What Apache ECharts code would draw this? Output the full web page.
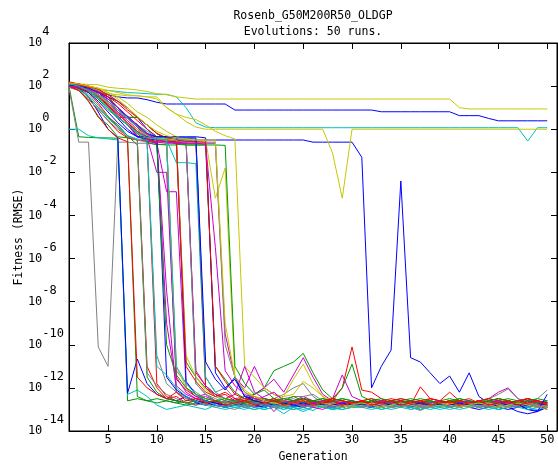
<!DOCTYPE html>
<html>
<head>
<meta charset="utf-8">
<script src="https://cdn.jsdelivr.net/npm/echarts@6/dist/echarts.min.js"></script>
<style>html,body{margin:0;padding:0;background:#fff}#c{width:558px;height:464px}</style>
</head>
<body>
<div id="c"></div>
<script>
// ---- data (fitness values stored as log10 of RMSE) ----
const titleText = 'Rosenb_G50M200R50_OLDGP\nEvolutions: 50 runs.';
const xName = 'Generation';
const yName = 'Fitness (RMSE)';
const generations = [1,2,3,4,5,6,7,8,9,10,11,12,13,14,15,16,17,18,19,20,21,22,23,24,25,26,27,28,29,30,31,32,33,34,35,36,37,38,39,40,41,42,43,44,45,46,47,48,49,50];
const xTickValues = [5,10,15,20,25,30,35,40,45,50];
const yTickExponents = [-14,-12,-10,-8,-6,-4,-2,0,2,4];
const palette = ['#ff0000','#009900','#0000ff','#cc00cc','#00c0c0','#c8c800','#808080'];

const run01 = [2.05,1.95,1.7,1.2,0.6,0.1,-0.4,-0.5,-0.55,-11.8,
 -12.4,-12.6,-12.7,-12.8,-12.6,-12.7,-12.9,-12.8,-12.7,-12.6,
 -12.8,-12.7,-12.8,-12.9,-12.7,-12.6,-12.7,-12.8,-12.8,-12.7,
 -12.9,-12.8,-12.6,-12.7,-12.8,-12.7,-12.9,-12.8,-12.7,-12.8,
 -12.6,-12.7,-12.8,-12.9,-12.7,-12.8,-12.7,-12.9,-12.8,-13.0];
const run02 = [2.0,-0.35,-0.38,-0.4,-0.4,-0.42,-12.6,-12.5,-12.6,-12.7,
 -12.6,-12.7,-12.8,-12.7,-12.6,-12.7,-12.8,-12.6,-12.7,-12.8,
 -12.7,-12.6,-12.7,-12.8,-12.7,-12.7,-12.6,-12.8,-12.7,-12.6,
 -12.7,-12.8,-12.7,-12.6,-12.7,-12.7,-12.8,-12.7,-12.6,-12.7,
 -12.8,-12.7,-12.6,-12.7,-12.7,-12.8,-12.7,-12.6,-12.7,-12.7];
const run03 = [2.0,1.95,1.85,1.75,1.6,1.5,1.45,1.45,1.37,1.25,
 1.17,1.17,1.17,1.17,1.17,1.17,1.17,0.89,0.89,0.89,
 0.89,0.89,0.89,0.89,0.89,0.89,0.89,0.89,0.89,0.89,
 0.89,0.89,0.81,0.81,0.81,0.81,0.81,0.81,0.81,0.81,
 0.63,0.63,0.63,0.5,0.39,0.39,0.39,0.39,0.39,0.39];
const run04 = [2.1,2.0,1.8,1.5,1.0,0.55,0.2,-0.35,-0.5,-0.6,
 -7.5,-12.2,-12.5,-12.6,-12.8,-12.7,-12.9,-12.8,-12.6,-12.7,
 -12.8,-12.7,-12.6,-12.8,-12.9,-12.7,-12.8,-12.7,-12.9,-12.8,
 -12.7,-12.8,-12.9,-12.7,-12.8,-12.6,-12.7,-12.8,-12.7,-12.9,
 -12.8,-12.7,-12.8,-12.6,-12.7,-12.9,-12.8,-12.7,-12.8,-12.9];
const run05 = [2.0,1.95,1.9,1.85,1.8,1.75,1.7,1.68,1.65,1.62,
 1.62,1.5,1.0,0.3,0.1,0.07,0.07,0.07,0.07,0.07,
 0.07,0.07,0.07,0.07,0.07,0.07,0.07,0.07,0.07,0.07,
 0.07,0.07,0.07,0.07,0.07,0.07,0.07,0.07,0.07,0.07,
 0.07,0.07,0.07,0.07,0.07,0.07,0.07,-0.55,0.07,0.07];
const run06 = [2.1,2.1,2.08,2.06,1.95,1.9,1.87,1.82,1.75,1.65,
 1.6,1.5,1.45,1.4,1.4,1.4,1.4,1.4,1.4,1.4,
 1.4,1.4,1.4,1.4,1.4,1.4,1.4,1.4,1.4,1.4,
 1.4,1.4,1.4,1.4,1.4,1.4,1.4,1.4,1.4,1.4,
 1.0,0.94,0.94,0.94,0.94,0.94,0.94,0.94,0.94,0.94];
const run07 = [1.9,-0.6,-0.6,-10.1,-11.0,-0.6,-0.6,-0.65,-0.65,-0.7,
 -0.7,-12.2,-12.4,-12.6,-12.7,-12.8,-12.9,-13.0,-12.8,-12.7,
 -12.8,-12.9,-12.7,-12.8,-12.6,-12.8,-12.9,-12.8,-12.7,-12.8,
 -12.9,-12.8,-12.7,-12.8,-12.9,-12.7,-13.0,-12.8,-12.7,-12.8,
 -12.9,-12.8,-12.7,-12.8,-12.6,-12.9,-12.8,-12.7,-12.8,-12.9];
const run08 = [2.15,2.1,1.9,1.6,1.1,0.55,0.55,0.2,-0.3,-0.45,
 -0.58,-11.6,-12.1,-12.4,-12.6,-12.7,-12.8,-12.6,-12.7,-12.8,
 -12.7,-12.9,-12.8,-12.7,-12.6,-12.8,-12.7,-12.9,-12.8,-12.7,
 -12.8,-12.7,-12.6,-12.8,-12.9,-12.7,-12.8,-12.7,-12.6,-12.8,
 -12.7,-12.9,-12.8,-12.7,-12.8,-12.6,-12.7,-12.9,-12.8,-12.7];
const run09 = [2.0,1.9,1.85,1.5,1.0,0.55,0.2,-0.1,-0.4,-0.7,
 -0.73,-0.73,-10.8,-11.5,-12.0,-12.3,-12.5,-12.6,-12.4,-12.3,
 -12.0,-11.2,-11.0,-10.8,-10.4,-11.3,-12.1,-12.5,-12.6,-12.7,
 -12.8,-12.7,-12.6,-12.8,-12.7,-12.9,-12.7,-12.8,-12.7,-12.6,
 -12.7,-12.8,-12.7,-12.9,-12.8,-12.7,-12.6,-12.8,-12.7,-12.8];
const run10 = [2.05,1.95,1.8,1.5,1.0,0.5,0.0,-0.35,-0.45,-0.5,
 -0.5,-0.5,-0.5,-0.5,-0.5,-0.5,-0.5,-0.5,-0.5,-0.5,
 -0.5,-0.5,-0.5,-0.5,-0.5,-0.6,-0.6,-0.6,-0.6,-0.6,
 -1.3,-12.0,-11.0,-10.25,-2.4,-10.6,-10.8,-11.3,-11.8,-11.45,
 -12.2,-11.3,-12.4,-12.7,-12.7,-12.75,-12.8,-13.0,-13.05,-12.9];
const run11 = [2.1,2.0,1.9,1.7,1.3,0.8,0.3,-0.2,-0.55,-0.65,
 -2.9,-2.9,-12.0,-12.4,-12.3,-12.6,-12.7,-12.5,-12.6,-12.3,
 -12.0,-11.6,-12.2,-11.4,-10.6,-11.5,-12.3,-12.6,-12.7,-12.8,
 -12.7,-12.9,-12.8,-12.7,-12.6,-12.8,-12.7,-12.9,-12.8,-12.7,
 -12.8,-12.7,-12.6,-12.5,-12.2,-12.0,-12.5,-12.7,-12.8,-12.9];
const run12 = [0.0,0.0,-0.3,-0.4,-0.45,-0.5,-12.3,-12.1,-12.4,-12.8,
 -13.0,-12.9,-12.8,-12.9,-13.0,-12.8,-12.9,-12.8,-12.7,-12.9,
 -12.8,-12.9,-13.0,-12.8,-12.9,-13.05,-12.8,-12.9,-12.8,-12.9,
 -12.8,-12.9,-12.8,-12.7,-12.9,-12.8,-12.9,-12.8,-12.9,-12.8,
 -12.9,-12.8,-12.9,-12.8,-12.7,-12.9,-12.8,-12.9,-12.8,-12.9];
const run13 = [2.0,1.95,1.85,1.75,1.65,1.6,1.55,1.55,1.5,1.4,
 1.0,0.7,0.35,0.1,0.0,0.0,0.0,0.0,0.0,0.0,
 0.0,0.0,0.0,0.0,0.0,0.0,0.0,-1.1,-3.2,0.0,
 0.0,0.0,0.0,0.0,0.0,0.0,0.0,0.0,0.0,0.0,
 0.0,0.0,0.0,0.0,0.0,0.0,0.0,0.0,0.0,0.0];
const run14 = [2.0,1.95,1.8,1.6,1.2,0.8,0.5,0.1,-0.3,-0.4,
 -0.45,-0.5,-0.5,-0.55,-11.5,-12.2,-12.0,-12.5,-12.4,-12.6,
 -12.7,-12.5,-12.3,-12.0,-11.8,-12.4,-12.7,-12.8,-12.6,-12.7,
 -12.8,-12.7,-12.9,-12.8,-12.7,-12.8,-13.0,-12.9,-12.8,-12.7,
 -12.8,-12.6,-12.7,-12.5,-12.3,-12.05,-12.5,-12.7,-12.5,-12.1];
const run15 = [2.2,2.1,2.0,1.9,1.5,1.0,0.55,0.2,-0.3,-0.5,
 -0.55,-0.58,-0.58,-11.3,-11.9,-12.3,-12.5,-12.6,-12.5,-12.6,
 -12.7,-12.6,-12.7,-12.6,-12.5,-12.6,-12.7,-12.5,-12.0,-10.1,
 -12.1,-12.2,-12.5,-12.7,-12.6,-12.8,-11.95,-12.5,-12.6,-12.2,
 -12.6,-12.7,-12.8,-12.6,-12.7,-12.8,-12.7,-12.6,-12.8,-13.0];
const run16 = [2.1,2.0,1.9,1.75,1.5,1.0,0.55,0.55,0.2,-0.2,
 -0.5,-0.65,-0.73,-0.73,-0.73,-11.0,-11.6,-12.2,-12.5,-12.4,
 -12.6,-12.5,-12.7,-12.6,-12.5,-12.6,-12.5,-12.6,-12.0,-10.9,
 -12.4,-12.6,-12.7,-12.6,-12.7,-12.8,-12.6,-12.7,-12.6,-12.7,
 -12.5,-12.6,-12.7,-12.6,-12.5,-12.6,-12.7,-12.6,-12.7,-12.6];
const run17 = [2.05,1.9,1.5,0.8,0.0,-0.4,-12.25,-10.66,-11.8,-12.3,
 -12.5,-12.6,-12.4,-12.7,-12.8,-12.6,-12.7,-12.8,-12.9,-12.8,
 -12.9,-12.8,-12.9,-12.85,-12.8,-12.9,-12.8,-12.9,-12.85,-12.9,
 -12.85,-12.9,-12.8,-12.9,-12.85,-12.9,-12.8,-12.9,-12.85,-12.9,
 -12.8,-12.9,-12.85,-12.9,-12.8,-12.9,-12.85,-12.9,-12.8,-12.85];
const run18 = [2.0,1.95,1.85,1.6,1.3,0.9,0.55,0.2,-0.2,-0.4,
 -0.5,-0.6,-0.65,-0.65,-0.65,-0.65,-9.5,-11.5,-12.0,-11.0,
 -12.0,-12.3,-12.5,-12.6,-12.4,-12.6,-12.7,-12.5,-11.4,-12.4,
 -12.6,-12.7,-12.6,-12.8,-12.7,-12.6,-12.8,-12.7,-12.6,-12.7,
 -12.8,-12.7,-12.6,-12.7,-12.8,-12.7,-12.6,-12.5,-12.7,-12.8];
const run19 = [2.0,1.9,1.7,1.4,1.0,0.6,0.2,-0.2,-0.4,-0.45,
 -0.5,-1.55,-1.55,-1.6,-12.0,-12.4,-12.6,-12.7,-12.8,-12.9,
 -13.0,-12.9,-13.2,-12.9,-13.1,-12.9,-12.8,-12.95,-13.0,-12.9,
 -12.9,-12.8,-12.9,-12.8,-12.9,-12.8,-12.9,-13.0,-12.9,-12.8,
 -12.9,-12.8,-12.9,-12.8,-12.9,-12.8,-12.9,-12.8,-12.9,-12.8];
const run20 = [2.1,2.0,1.95,1.9,1.8,1.7,1.6,1.55,1.5,1.5,
 1.0,0.7,0.55,0.45,0.2,-0.1,-0.3,-0.45,-11.0,-11.5,
 -12.0,-12.3,-12.4,-11.6,-10.9,-11.8,-12.4,-12.7,-12.8,-12.7,
 -12.7,-12.8,-12.9,-12.7,-12.8,-12.6,-12.8,-12.7,-12.8,-12.9,
 -12.8,-12.7,-12.8,-12.9,-12.7,-12.8,-12.6,-12.8,-12.9,-12.8];
const run21 = [2.1,2.0,1.9,1.6,1.2,0.7,0.55,0.2,-0.2,-0.5,
 -0.6,-11.2,-11.8,-12.2,-12.5,-12.6,-12.7,-12.6,-12.5,-12.7,
 -12.6,-12.7,-12.5,-12.4,-12.4,-12.3,-12.6,-12.7,-12.8,-12.7,
 -12.6,-12.8,-12.7,-12.6,-12.7,-13.0,-12.9,-12.7,-12.8,-12.7,
 -12.6,-12.7,-12.8,-12.7,-12.6,-12.8,-12.9,-12.7,-12.6,-12.8];
const run22 = [1.95,1.8,1.4,0.9,0.4,-0.1,-0.4,-0.5,-11.0,-12.0,
 -12.5,-12.4,-12.7,-12.6,-12.8,-12.7,-12.6,-12.8,-12.7,-12.9,
 -12.7,-12.8,-12.6,-12.7,-12.9,-12.8,-12.7,-12.6,-12.8,-12.7,
 -12.8,-12.9,-12.7,-12.8,-12.6,-12.7,-12.8,-12.9,-12.7,-12.8,
 -12.7,-12.8,-12.9,-12.7,-12.8,-12.6,-12.7,-12.8,-12.9,-12.7];
const run23 = [2.0,1.85,1.3,0.55,0.2,-0.35,-0.4,-12.4,-12.6,-12.5,
 -12.6,-12.7,-12.6,-12.5,-12.6,-12.7,-12.6,-12.7,-12.6,-12.5,
 -12.6,-12.7,-12.8,-12.6,-12.7,-12.6,-12.5,-12.6,-12.7,-12.6,
 -12.7,-12.6,-12.7,-12.6,-12.5,-12.6,-12.7,-12.6,-12.7,-12.6,
 -12.6,-12.7,-12.6,-12.7,-12.6,-12.5,-12.6,-12.7,-12.6,-12.7];
const run24 = [2.0,1.95,1.85,1.7,1.5,1.3,1.0,0.55,0.0,-0.35,
 -0.35,-0.35,-0.35,-0.35,-0.4,-11.3,-12.0,-11.6,-12.4,-12.5,
 -12.6,-12.7,-12.8,-12.7,-12.8,-12.9,-12.8,-12.9,-12.8,-12.9,
 -12.8,-12.9,-12.8,-12.9,-12.8,-12.9,-12.8,-12.7,-12.8,-12.9,
 -12.8,-12.9,-13.0,-12.9,-12.8,-12.9,-13.1,-13.2,-13.1,-12.9];
const run25 = [2.15,2.05,1.9,1.6,1.1,0.6,0.2,-0.3,-0.55,-0.65,
 -9.0,-11.9,-12.3,-12.5,-12.6,-12.7,-12.8,-12.6,-12.7,-12.9,
 -12.7,-12.8,-12.9,-12.8,-12.7,-12.9,-12.8,-12.7,-12.9,-12.8,
 -12.8,-12.7,-12.9,-12.8,-12.7,-12.8,-12.9,-12.8,-12.7,-12.8,
 -12.9,-12.8,-12.7,-12.8,-12.9,-12.8,-12.7,-12.9,-12.8,-12.7];
const run26 = [2.05,1.95,1.8,1.55,1.2,0.8,0.5,0.15,-0.3,-0.45,
 -0.5,-0.5,-0.55,-11.8,-12.3,-12.6,-12.8,-12.9,-13.0,-12.8,
 -12.9,-12.8,-13.0,-12.9,-12.8,-12.9,-12.8,-13.0,-12.9,-12.8,
 -12.9,-12.8,-12.9,-13.0,-12.9,-12.8,-12.9,-12.8,-12.9,-12.8,
 -12.9,-12.8,-12.9,-12.8,-13.0,-12.9,-12.8,-12.9,-12.8,-12.9];
const run27 = [2.1,2.05,2.0,1.9,1.7,1.5,1.2,0.8,0.55,0.2,
 -0.1,-0.35,-0.45,-0.5,-0.5,-3.2,-1.8,-11.5,-12.2,-12.4,
 -12.5,-12.6,-12.4,-12.3,-11.7,-12.0,-12.4,-12.6,-12.7,-12.8,
 -12.7,-12.8,-12.9,-12.8,-12.7,-12.8,-12.9,-12.7,-12.8,-12.9,
 -12.8,-12.7,-12.9,-12.8,-12.7,-12.9,-12.8,-12.7,-12.9,-13.0];
const run28 = [2.0,1.9,1.6,1.1,0.6,0.2,-0.3,-0.5,-0.6,-10.5,
 -11.8,-12.2,-12.5,-12.6,-12.8,-12.7,-12.6,-12.8,-12.7,-12.6,
 -12.8,-12.7,-12.9,-12.8,-12.7,-12.8,-12.9,-12.7,-12.8,-12.9,
 -12.8,-12.7,-12.9,-12.8,-12.7,-12.9,-13.05,-12.8,-12.7,-12.8,
 -12.7,-12.8,-12.9,-12.8,-12.7,-12.9,-12.8,-12.7,-12.9,-12.8];
const run29 = [2.1,2.05,1.95,1.75,1.5,1.2,0.8,0.4,0.0,-0.35,
 -0.45,-0.58,-0.58,-0.58,-12.0,-12.4,-12.3,-12.6,-12.7,-12.6,
 -12.7,-12.6,-12.8,-12.7,-12.6,-12.7,-12.8,-12.6,-12.7,-12.8,
 -12.7,-12.6,-12.7,-12.8,-12.7,-12.6,-12.7,-12.8,-12.7,-12.6,
 -12.7,-12.8,-12.6,-12.7,-12.8,-12.7,-12.6,-12.7,-12.8,-12.7];
const run30 = [2.0,1.9,1.8,1.6,1.3,0.9,0.55,0.55,0.2,-0.2,
 -0.45,-0.7,-0.73,-0.73,-0.73,-0.73,-0.75,-11.0,-11.8,-12.3,
 -12.1,-12.5,-12.6,-12.4,-12.6,-12.7,-12.6,-12.5,-12.6,-12.7,
 -12.6,-12.5,-12.6,-12.7,-12.6,-12.5,-12.6,-12.7,-12.6,-12.5,
 -12.6,-12.7,-12.6,-12.5,-12.6,-12.7,-12.6,-12.5,-12.6,-12.7];
const run31 = [2.1,2.0,1.9,1.7,1.4,1.0,0.55,0.1,-0.35,-0.35,
 -0.35,-0.35,-11.7,-12.3,-12.6,-12.7,-12.8,-12.75,-12.8,-12.7,
 -12.8,-12.75,-12.8,-12.7,-12.8,-12.75,-12.8,-12.7,-12.75,-12.8,
 -12.75,-12.8,-12.7,-12.75,-12.8,-12.75,-12.7,-12.8,-12.75,-12.8,
 -12.75,-12.8,-12.7,-12.75,-12.8,-12.75,-12.7,-12.8,-12.75,-12.8];
const run32 = [2.0,1.95,1.8,1.5,1.1,0.7,0.3,-0.1,-0.4,-2.0,
 -2.0,-11.5,-12.2,-12.5,-12.4,-12.6,-12.7,-12.5,-12.7,-12.6,
 -12.4,-12.2,-12.6,-12.7,-12.5,-12.7,-12.8,-12.6,-12.7,-12.8,
 -12.6,-12.7,-12.8,-12.7,-12.6,-12.8,-12.7,-12.6,-12.7,-12.8,
 -12.7,-12.6,-12.8,-12.7,-12.6,-12.7,-12.8,-12.7,-12.6,-12.7];
const run33 = [2.1,2.0,1.85,1.6,1.3,0.9,0.55,0.2,-0.1,-0.35,
 -0.4,-0.42,-0.42,-0.45,-11.5,-12.2,-12.5,-12.7,-12.9,-13.0,
 -12.9,-12.8,-12.9,-13.0,-12.9,-12.8,-12.9,-13.0,-12.9,-12.8,
 -12.9,-12.8,-13.0,-12.9,-12.8,-12.9,-12.8,-12.9,-13.0,-12.9,
 -12.8,-12.9,-12.8,-12.9,-13.0,-12.9,-12.8,-12.9,-12.8,-12.9];
const run34 = [2.05,1.95,1.8,1.5,1.0,0.55,0.2,-0.2,-0.4,-0.45,
 -0.5,-11.0,-12.0,-12.3,-12.5,-12.6,-12.7,-12.8,-12.7,-12.6,
 -12.7,-12.8,-12.9,-12.8,-12.7,-12.8,-12.9,-12.8,-12.7,-12.8,
 -12.9,-12.8,-12.7,-12.8,-12.9,-12.8,-12.7,-12.8,-12.9,-12.8,
 -12.7,-12.8,-12.9,-12.8,-12.7,-12.9,-12.8,-12.7,-12.8,-12.9];
const run35 = [2.0,1.95,1.9,1.8,1.6,1.3,1.0,0.55,0.2,-0.2,
 -0.4,-0.5,-0.55,-0.6,-0.6,-0.6,-10.0,-11.5,-12.2,-12.5,
 -12.6,-12.7,-12.6,-12.5,-12.7,-12.8,-12.7,-12.6,-12.8,-12.7,
 -12.8,-12.7,-12.6,-12.8,-12.7,-12.6,-12.8,-12.7,-12.6,-12.8,
 -12.7,-12.8,-12.6,-12.7,-12.8,-12.7,-12.6,-12.8,-12.7,-12.6];
const run36 = [2.15,2.1,2.0,1.85,1.6,1.3,0.9,0.55,0.2,-0.2,
 -0.4,-0.5,-0.58,-0.58,-0.6,-11.0,-11.7,-12.3,-12.5,-12.6,
 -12.5,-12.6,-12.7,-12.6,-12.5,-12.7,-12.6,-12.5,-12.6,-12.7,
 -12.6,-12.7,-12.6,-12.5,-12.6,-12.7,-12.6,-12.5,-12.6,-12.7,
 -12.6,-12.7,-12.6,-12.5,-12.6,-12.7,-12.6,-12.5,-12.6,-12.7];
const run37 = [2.05,1.9,1.5,1.0,0.55,0.2,-0.3,-0.73,-11.5,-12.2,
 -12.5,-12.6,-12.7,-12.6,-12.7,-12.6,-12.7,-12.6,-12.7,-12.6,
 -12.7,-12.6,-12.5,-12.6,-12.7,-12.6,-12.7,-12.6,-12.5,-12.6,
 -12.7,-12.6,-12.7,-12.6,-12.7,-12.6,-12.7,-12.6,-12.7,-12.6,
 -12.7,-12.6,-12.7,-12.6,-12.7,-12.6,-12.7,-12.6,-12.7,-12.6];
const run38 = [2.0,1.9,1.7,1.3,0.8,0.3,-0.1,-0.35,-0.35,-0.35,
 -11.5,-12.1,-12.4,-12.6,-12.7,-12.8,-12.9,-12.8,-12.7,-12.8,
 -12.9,-12.8,-12.7,-12.8,-12.9,-12.8,-12.7,-12.8,-12.9,-12.8,
 -12.7,-12.8,-12.9,-12.8,-12.7,-12.8,-12.9,-12.8,-12.7,-12.8,
 -12.9,-12.8,-12.7,-12.8,-12.9,-13.0,-12.9,-12.8,-12.9,-12.8];
const run39 = [2.1,2.0,1.85,1.6,1.2,0.8,0.4,0.0,-0.4,-0.6,
 -0.65,-0.65,-0.65,-11.2,-11.9,-12.3,-12.5,-12.3,-11.0,-12.2,
 -12.5,-12.6,-12.7,-12.6,-12.8,-12.7,-12.6,-12.8,-12.7,-12.6,
 -12.8,-12.7,-12.6,-12.8,-12.7,-12.6,-12.8,-12.7,-12.6,-12.8,
 -12.7,-12.6,-12.8,-12.7,-12.6,-12.8,-12.7,-12.6,-12.8,-12.7];
const run40 = [2.0,1.85,1.5,1.0,0.5,0.1,-0.3,-0.45,-0.5,-11.0,
 -11.4,-12.0,-12.4,-12.6,-12.8,-12.9,-13.0,-12.9,-12.8,-12.9,
 -13.0,-12.9,-12.8,-12.9,-13.0,-12.9,-12.8,-12.9,-13.0,-12.9,
 -12.8,-12.9,-13.0,-12.9,-12.8,-12.9,-13.0,-12.9,-12.8,-12.9,
 -13.0,-12.9,-12.8,-12.9,-13.0,-12.9,-12.8,-12.9,-13.0,-12.9];
const run41 = [2.1,2.0,1.9,1.6,1.2,0.7,0.3,0.0,-0.3,-0.4,
 -0.45,-0.5,-10.5,-11.5,-12.1,-12.4,-12.5,-12.6,-12.7,-12.8,
 -12.7,-12.8,-12.6,-12.7,-12.8,-12.9,-12.8,-12.7,-12.8,-12.9,
 -12.8,-12.7,-12.8,-12.9,-12.8,-12.7,-12.8,-12.9,-12.8,-12.7,
 -12.8,-12.9,-12.8,-12.7,-12.8,-12.9,-12.8,-12.7,-12.8,-12.9];
const run42 = [2.05,2.0,1.85,1.6,1.3,0.9,0.5,0.1,-0.25,-0.45,
 -0.5,-0.55,-0.6,-11.8,-12.3,-12.5,-12.7,-12.6,-12.8,-12.7,
 -12.8,-12.7,-12.9,-12.8,-12.7,-12.8,-12.9,-12.7,-12.8,-12.7,
 -12.9,-12.8,-12.7,-12.8,-12.9,-12.7,-12.8,-12.9,-12.7,-12.8,
 -12.9,-12.7,-12.8,-12.9,-12.7,-12.8,-12.9,-12.7,-12.8,-12.9];
const run43 = [2.0,1.9,1.75,1.5,1.1,0.7,0.3,-0.1,-0.45,-0.58,
 -0.58,-0.58,-11.0,-11.7,-12.2,-12.4,-12.2,-12.5,-12.6,-12.4,
 -12.6,-12.5,-12.7,-12.6,-12.5,-12.6,-12.7,-12.5,-12.6,-12.7,
 -12.6,-12.5,-12.7,-12.6,-12.5,-12.6,-12.7,-12.5,-12.6,-12.7,
 -12.6,-12.5,-12.7,-12.6,-12.5,-12.6,-12.7,-12.5,-12.6,-12.8];
const run44 = [2.1,2.0,1.8,1.4,0.9,0.55,0.2,-0.2,-0.6,-0.73,
 -10.0,-11.4,-12.0,-12.3,-12.5,-12.6,-12.5,-12.6,-12.7,-12.6,
 -12.5,-12.6,-12.7,-12.6,-12.5,-12.6,-12.7,-12.6,-12.5,-12.6,
 -12.7,-12.6,-12.5,-12.6,-12.7,-12.6,-12.5,-12.6,-12.7,-12.6,
 -12.5,-12.6,-12.7,-12.6,-12.5,-12.6,-12.7,-12.6,-12.5,-12.6];
const run45 = [2.05,2.0,1.9,1.7,1.4,1.0,0.6,0.2,-0.2,-0.35,
 -0.35,-0.4,-0.4,-0.4,-10.8,-11.6,-12.1,-11.5,-12.4,-12.6,
 -12.7,-12.8,-12.75,-12.8,-12.7,-12.8,-12.75,-12.8,-12.7,-12.8,
 -12.75,-12.8,-12.7,-12.8,-12.75,-12.8,-12.7,-12.8,-12.75,-12.8,
 -12.7,-12.8,-12.75,-12.8,-12.7,-12.8,-12.75,-13.0,-13.1,-12.3];
const run46 = [2.0,1.95,1.85,1.7,1.4,1.0,0.6,0.2,-0.2,-0.5,
 -0.6,-0.65,-0.65,-0.65,-0.7,-5.5,-11.2,-11.9,-12.3,-12.5,
 -12.6,-13.1,-12.6,-12.7,-12.8,-12.9,-13.0,-12.8,-12.9,-12.8,
 -12.7,-12.8,-12.9,-12.8,-12.7,-12.8,-12.9,-12.8,-12.7,-12.8,
 -12.9,-12.8,-12.7,-12.8,-12.9,-12.8,-12.7,-12.8,-12.9,-12.8];
const run47 = [2.1,2.0,1.8,1.45,1.0,0.55,0.2,-0.15,-0.4,-0.45,
 -0.5,-11.0,-11.8,-12.3,-12.6,-12.8,-12.9,-12.8,-12.9,-13.0,
 -12.9,-12.8,-12.9,-13.0,-12.9,-12.8,-12.9,-13.0,-12.9,-12.8,
 -12.9,-13.0,-12.9,-12.8,-12.9,-13.0,-12.9,-12.8,-12.9,-13.0,
 -12.9,-12.8,-12.9,-13.0,-12.9,-12.8,-12.9,-13.0,-12.9,-12.8];
const run48 = [2.15,2.1,2.0,1.9,1.7,1.4,1.0,0.6,0.2,-0.1,
 -0.3,-0.4,-0.45,-0.5,-0.5,-0.5,-9.0,-11.5,-12.1,-12.4,
 -12.6,-12.7,-12.8,-12.7,-12.6,-12.8,-12.7,-12.8,-12.9,-12.8,
 -12.7,-12.8,-12.9,-12.8,-12.7,-12.8,-12.9,-12.8,-12.7,-12.8,
 -12.9,-12.8,-12.7,-12.8,-12.9,-12.8,-12.7,-12.8,-12.9,-12.8];
const run49 = [1.95,1.8,1.4,0.9,0.4,0.0,-0.35,-0.5,-11.3,-11.9,
 -12.3,-12.5,-12.7,-12.8,-12.7,-12.9,-12.8,-12.7,-12.9,-12.8,
 -12.7,-12.9,-12.8,-12.7,-12.9,-12.8,-12.7,-12.9,-12.8,-12.7,
 -12.9,-12.8,-12.7,-12.9,-12.8,-12.7,-12.9,-12.8,-12.7,-12.9,
 -12.8,-12.7,-12.9,-12.8,-12.7,-12.9,-12.8,-12.7,-12.9,-12.8];
const run50 = [2.0,1.8,1.3,0.6,0.0,-0.4,-0.58,-11.5,-12.0,-12.3,
 -12.5,-12.2,-12.6,-12.5,-12.7,-12.6,-12.8,-12.7,-12.6,-12.8,
 -12.7,-12.6,-12.8,-12.7,-12.6,-12.8,-12.7,-12.6,-12.8,-12.7,
 -12.6,-12.8,-12.7,-12.6,-12.8,-12.7,-12.6,-12.8,-12.7,-12.6,
 -12.8,-12.7,-12.6,-12.8,-12.7,-12.6,-12.8,-12.7,-12.6,-12.8];

const runs = [run01,run02,run03,run04,run05,run06,run07,run08,run09,run10,
 run11,run12,run13,run14,run15,run16,run17,run18,run19,run20,
 run21,run22,run23,run24,run25,run26,run27,run28,run29,run30,
 run31,run32,run33,run34,run35,run36,run37,run38,run39,run40,
 run41,run42,run43,run44,run45,run46,run47,run48,run49,run50];

// ---- chart ----
const FONT = 'DejaVu Sans Mono';
const chart = echarts.init(document.getElementById('c'), null, {renderer: 'canvas'});
const series = runs.map((r, k) => ({
  type: 'line',
  name: 'run ' + (k + 1),
  xAxisIndex: 0, yAxisIndex: 0,
  data: generations.map((g, i) => [g, r[i]]),
  symbol: 'none', showSymbol: false, silent: true,
  lineStyle: {width: 1, color: palette[k % palette.length]},
  itemStyle: {color: palette[k % palette.length]},
  animation: false
}));

const tickStyle = {show: true, inside: true, length: 6, lineStyle: {color: '#000', width: 1}};
const lineStyleAxis = {show: true, onZero: false, lineStyle: {color: '#000', width: 1}};
chart.setOption({
  animation: false,
  backgroundColor: '#ffffff',
  title: {
    text: titleText, left: 313, top: 8, padding: 0, textAlign: 'center',
    textStyle: {fontFamily: FONT, fontSize: 11.5, fontWeight: 'normal', color: '#000', lineHeight: 16}
  },
  grid: {left: 69, right: 1, top: 43, bottom: 33, show: true, borderColor: '#000', borderWidth: 1,
    backgroundColor: 'transparent', outerBoundsMode: 'none', containLabel: false},
  xAxis: [{
    type: 'value', min: 1, max: 51, position: 'bottom',
    name: xName, nameLocation: 'middle', nameGap: 20, nameMoveOverlap: false,
    nameTextStyle: {fontFamily: FONT, fontSize: 11.5, color: '#000'},
    axisLine: lineStyleAxis,
    axisTick: Object.assign({customValues: xTickValues}, tickStyle),
    axisLabel: {customValues: xTickValues, fontFamily: FONT, fontSize: 12, color: '#000', margin: 3},
    splitLine: {show: false}
  }, {
    type: 'value', min: 1, max: 51, position: 'top',
    axisLine: lineStyleAxis,
    axisTick: Object.assign({customValues: xTickValues}, tickStyle),
    axisLabel: {show: false}, splitLine: {show: false}
  }],
  yAxis: [{
    type: 'value', min: -14, max: 4, interval: 2, position: 'left',
    name: yName, nameLocation: 'middle', nameGap: 44, nameRotate: 90, nameMoveOverlap: false,
    nameTextStyle: {fontFamily: FONT, fontSize: 11.5, color: '#000'},
    axisLine: lineStyleAxis,
    axisTick: tickStyle,
    axisLabel: {
      margin: 5, color: '#000',
      formatter: v => '{b|10}{e|' + String(v).padEnd(3, ' ') + '}',
      rich: {
        b: {fontFamily: FONT, fontSize: 12, color: '#000', lineHeight: 34},
        e: {fontFamily: FONT, fontSize: 12, color: '#000', verticalAlign: 'top'}
      }
    },
    splitLine: {show: false}
  }, {
    type: 'value', min: -14, max: 4, interval: 2, position: 'right',
    axisLine: lineStyleAxis,
    axisTick: tickStyle, axisLabel: {show: false}, splitLine: {show: false}
  }],
  series: series
});
</script>
</body>
</html>
